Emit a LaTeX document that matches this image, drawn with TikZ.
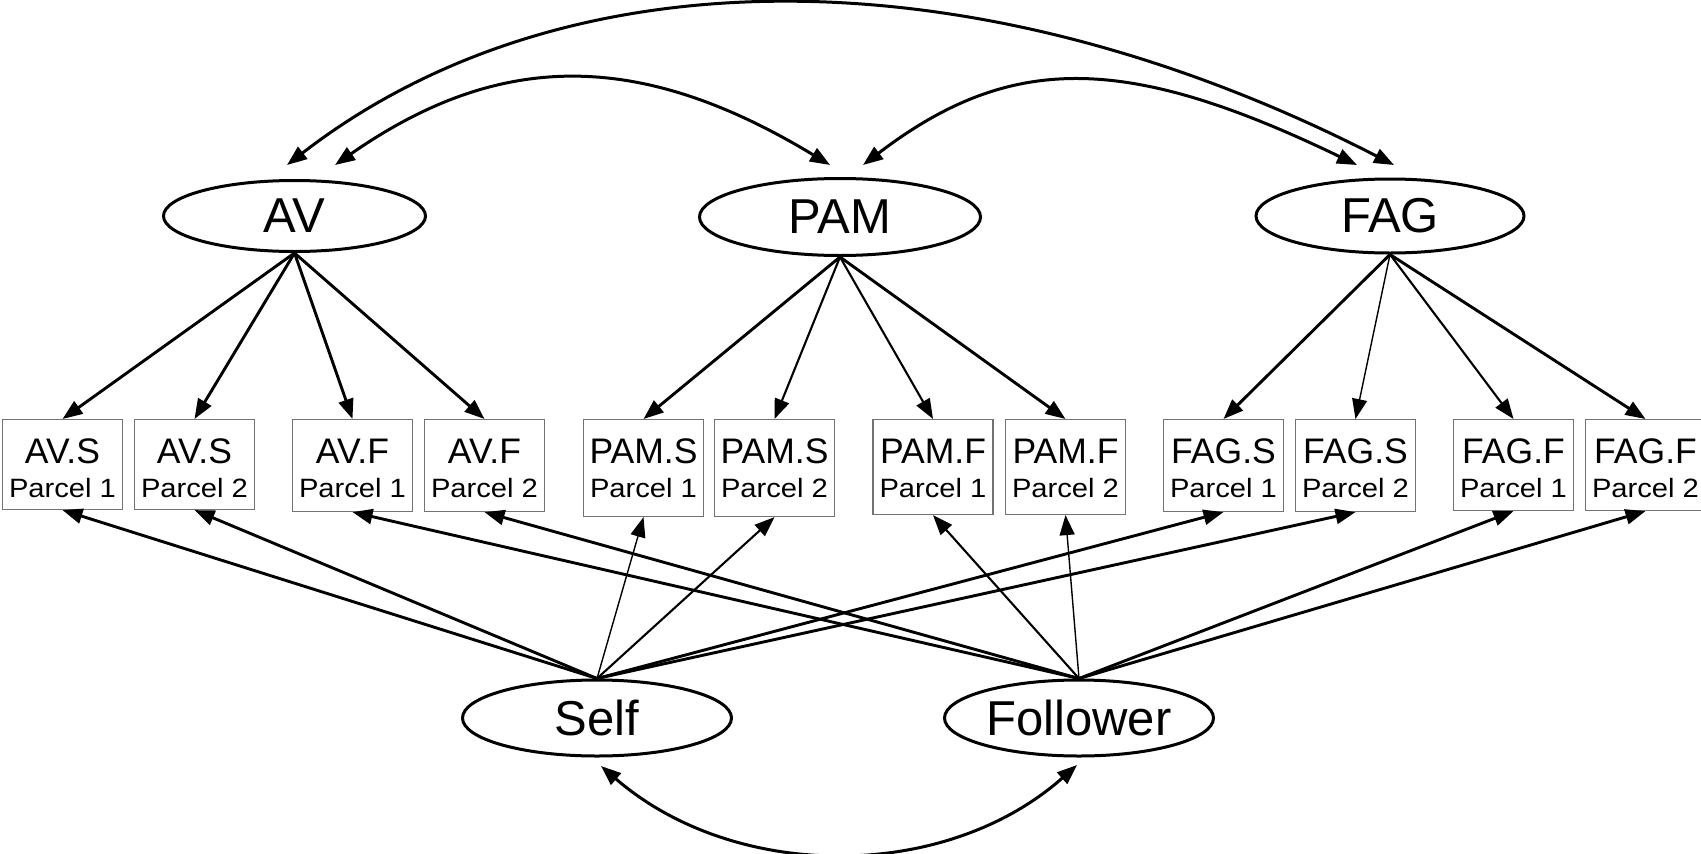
\documentclass[tikz,border=0pt]{standalone}
\usepackage{fontspec}
\setmainfont{Liberation Sans}
\usetikzlibrary{shapes.geometric,arrows.meta}
\tikzset{
  lat/.style={ellipse, draw, line width=3pt, inner sep=0pt, font=\fontsize{49}{49}\selectfont},
  ind/.style={rectangle, draw=black!55, line width=1.1pt, minimum width=120pt, anchor=north, inner sep=0pt},
  ttl/.style={anchor=base, inner sep=0pt, font=\fontsize{35.5}{35.5}\selectfont},
  prc/.style={anchor=base, inner sep=0pt, font=\fontsize{26.5}{26.5}\selectfont},
  tipA/.tip={Triangle[length=20pt,width=15pt]},
  arr/.style={-tipA, line width=2.9pt},
  arrmed/.style={-tipA, line width=2.1pt},
  arrthin/.style={-tipA, line width=1.4pt},
  dbl/.style={tipA-tipA, line width=3pt},
}
\newcommand{\pc}[1]{\scalebox{1.1}[1]{#1}}
\begin{document}
\begin{tikzpicture}[x=1pt,y=-1pt]
\useasboundingbox (0,0) rectangle (1701,854);

% latent variables
\node[lat, minimum width=262pt, minimum height=71pt] (av)  at (294.5,216) {AV};
\node[lat, minimum width=281pt, minimum height=77pt] (pam) at (840,217) {PAM};
\node[lat, minimum width=268pt, minimum height=74pt] (fag) at (1390,216) {FAG};
\node[lat, minimum width=269pt, minimum height=76pt] (self) at (597,718) {Self};
\node[lat, minimum width=269pt, minimum height=76pt] (fol)  at (1079,718) {Follower};

% indicator boxes
\node[ind, minimum height=90pt] (b1)  at (62.5,419) {};
\node[ind, minimum height=90pt] (b2)  at (194.5,419) {};
\node[ind, minimum height=92pt] (b3)  at (352.5,419) {};
\node[ind, minimum height=92pt] (b4)  at (484.5,419) {};
\node[ind, minimum height=97pt] (b5)  at (643.5,419) {};
\node[ind, minimum height=97pt] (b6)  at (774.5,419) {};
\node[ind, minimum height=95pt] (b7)  at (933,419) {};
\node[ind, minimum height=95pt] (b8)  at (1065.5,419) {};
\node[ind, minimum height=92pt] (b9)  at (1223.5,419) {};
\node[ind, minimum height=92pt] (b10) at (1355.5,419) {};
\node[ind, minimum height=91pt] (b11) at (1513.5,419) {};
\node[ind, minimum height=91pt] (b12) at (1645.5,419) {};

% box texts
\foreach \b/\t/\p in {b1/AV.S/1, b2/AV.S/2, b3/AV.F/1, b4/AV.F/2,
                      b5/PAM.S/1, b6/PAM.S/2, b7/PAM.F/1, b8/PAM.F/2,
                      b9/FAG.S/1, b10/FAG.S/2, b11/FAG.F/1, b12/FAG.F/2}{
  \node[ttl] (\b t) at ([yshift=-44pt]\b.north) {\t};
  \node[prc] (\b p) at ([yshift=-78pt]\b.north) {\pc{Parcel \p}};
}

% loadings from factors
\draw[arr] (av.south) -- (b1.north);
\draw[arr] (av.south) -- (b2.north);
\draw[arr] (av.south) -- (b3.north);
\draw[arr] (av.south) -- (b4.north);
\draw[arr] (pam.south) -- (b5.north);
\draw[arrmed] (pam.south) -- (b6.north);
\draw[arrmed] (pam.south) -- (b7.north);
\draw[arr] (pam.south) -- (b8.north);
\draw[arr] (fag.south) -- (b9.north);
\draw[arrthin] (fag.south) -- (b10.north);
\draw[arrmed] (fag.south) -- (b11.north);
\draw[arr] (fag.south) -- (b12.north);

% loadings from method factors
\draw[arr] (self.north) -- (b1.south);
\draw[arr] (self.north) -- (b2.south);
\draw[arrthin] (self.north) -- (b5.south);
\draw[arrmed] (self.north) -- (b6.south);
\draw[arr] (self.north) -- (b9.south);
\draw[arr] (self.north) -- (b10.south);
\draw[arr] (fol.north) -- (b3.south);
\draw[arr] (fol.north) -- (b4.south);
\draw[arrmed] (fol.north) -- (b7.south);
\draw[arrthin] (fol.north) -- (b8.south);
\draw[arr] (fol.north) -- (b11.south);
\draw[arr] (fol.north) -- (b12.south);

% covariances
\coordinate (avA) at (287,165);
\coordinate (avB) at (335,165);
\coordinate (pamA) at (830,165);
\coordinate (pamB) at (863,165);
\coordinate (fagA) at (1357,165);
\coordinate (fagB) at (1394,165);
\coordinate (selfA) at (601,766);
\coordinate (folA) at (1077,765);
\draw[dbl] (avA) .. controls (565,-50) and (975,-50) .. (fagB);
\draw[dbl] (avB) .. controls (500,50) and (640,50) .. (pamA);
\draw[dbl] (pamB) .. controls (1010,53) and (1125,53) .. (fagA);
\draw[dbl] (selfA) .. controls (735,882) and (945,882) .. (folA);
\end{tikzpicture}
\end{document}
